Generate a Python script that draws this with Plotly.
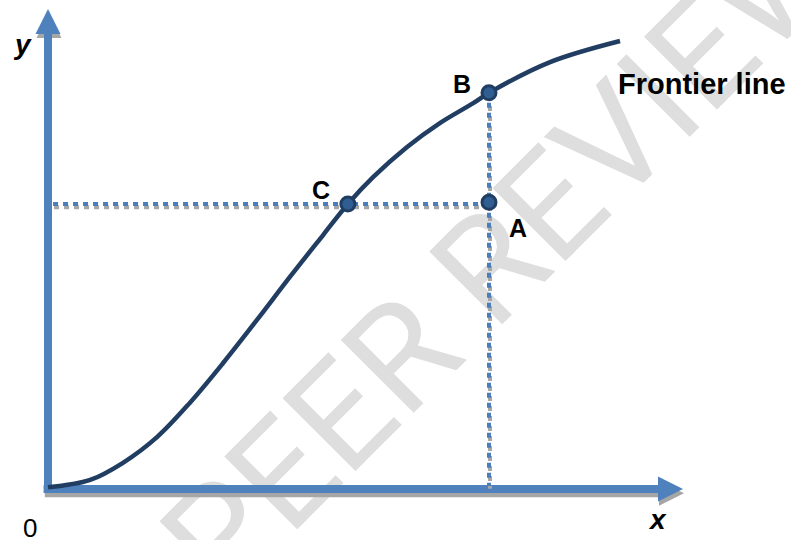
import plotly.graph_objects as go

# frontier curve (arbitrary units, origin at the axes corner)
frontier_x = [0, 0.67, 1.19, 1.73, 2.25, 2.78, 3.32, 3.84, 4.37, 4.76, 5.16, 5.7, 6.22, 6.75, 7.0, 7.97, 9.08]
frontier_y = [0.03, 0.16, 0.46, 0.91, 1.51, 2.21, 2.97, 3.72, 4.46, 5.0, 5.47, 6.0, 6.42, 6.77, 6.95, 7.49, 7.86]

# labelled points
point_names = ["C", "B", "A"]
point_x = [4.76, 7.0, 7.0]
point_y = [5.0, 6.95, 5.03]

# axis extents
x_axis_end = 9.75
y_axis_end = 8.0
x_tip = 10.08
y_tip = 8.42

AXIS = "#4F81BD"
SHADOW = "#A6A6A6"
CURVE = "#213E62"
DOT_BLUE = "#4A7EBB"

fig = go.Figure()

# shadows of the axes (a few px down / right)
fig.add_trace(go.Scatter(x=[-0.05, x_axis_end], y=[-0.075, -0.075], mode="lines",
                         line=dict(color=SHADOW, width=8)))
fig.add_trace(go.Scatter(x=[x_tip + 0.016, 0.016], y=[-0.075, y_tip - 0.07], mode="markers",
                         marker=dict(symbol=["arrow-right", "arrow-up"], size=25, color=SHADOW)))

# axes
fig.add_trace(go.Scatter(x=[-0.07, x_axis_end], y=[0, 0], mode="lines",
                         line=dict(color=AXIS, width=8)))
fig.add_trace(go.Scatter(x=[0, 0], y=[-0.07, y_axis_end], mode="lines",
                         line=dict(color=AXIS, width=8)))
fig.add_trace(go.Scatter(x=[x_tip, 0], y=[0, y_tip], mode="markers",
                         marker=dict(symbol=["arrow-right", "arrow-up"], size=25, color=AXIS)))

# dotted guide lines from C to A and from B down to the x axis
guide_x = [0.08, point_x[2], None, point_x[1], point_x[1]]
guide_y = [point_y[0], point_y[0], None, point_y[1], 0.06]
fig.add_trace(go.Scatter(x=[v + 0.016 if v is not None else None for v in guide_x],
                         y=[v - 0.055 if v is not None else None for v in guide_y],
                         mode="lines", line=dict(color=SHADOW, width=4, dash="5px,5px")))
fig.add_trace(go.Scatter(x=guide_x, y=guide_y, mode="lines",
                         line=dict(color=DOT_BLUE, width=4, dash="5px,5px")))

# frontier line
fig.add_trace(go.Scatter(x=frontier_x, y=frontier_y, mode="lines",
                         line=dict(color=CURVE, width=4.5, shape="spline", smoothing=1.0)))

# points
fig.add_trace(go.Scatter(x=point_x, y=point_y, mode="markers",
                         marker=dict(size=14, color="#2F5E92",
                                     line=dict(color=CURVE, width=3))))

# watermark, below the traces
fig.add_shape(type="line", x0=7.1, y0=4.312, x1=7.2, y1=4.313, layer="below",
              line=dict(color="rgba(0,0,0,0)", width=0),
              label=dict(text="PEER REVIEW", textangle=-45, textposition="middle",
                         xanchor="center", yanchor="middle",
                         font=dict(family="Roboto", size=145, color="#DEDEDE")))

lbl = dict(family="Liberation Sans, Arial", size=25, color="black")
annotations = [
    dict(x=4.33, y=5.25, text="<b>C</b>"),
    dict(x=6.57, y=7.1, text="<b>B</b>"),
    dict(x=7.46, y=4.58, text="<b>A</b>"),
    dict(x=10.38, y=7.1, text="<b>Frontier line</b>", font=dict(lbl, size=29)),
    dict(x=-0.40, y=7.79, text="<b><i>y</i></b>", font=dict(lbl, size=28)),
    dict(x=9.67, y=-0.54, text="<b><i>x</i></b>", font=dict(lbl, size=28)),
    dict(x=-0.29, y=-0.68, text="0", font=dict(lbl, size=26)),
]
for a in annotations:
    a.setdefault("font", lbl)
    a.update(showarrow=False, xanchor="center", yanchor="middle")

fig.update_layout(
    width=791, height=540,
    margin=dict(l=0, r=0, t=0, b=0),
    paper_bgcolor="white", plot_bgcolor="white",
    showlegend=False,
    xaxis=dict(range=[-0.7619, 11.794], visible=False, fixedrange=True),
    yaxis=dict(range=[-0.8947, 8.5789], visible=False, fixedrange=True),
    annotations=annotations,
)

# drop the page's default 8px body margin so the figure sits at the window corner
fig.write_html("out.html", config={"displayModeBar": False},
               post_script="document.body.style.margin='0';")
